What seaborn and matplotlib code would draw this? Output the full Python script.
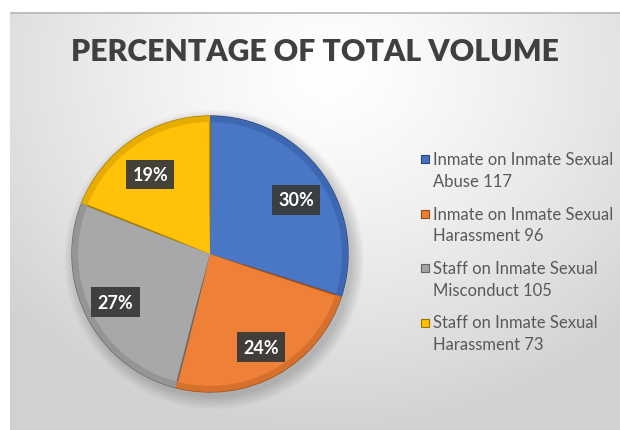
import numpy as np
import matplotlib
matplotlib.use("Agg")
import matplotlib.pyplot as plt
import matplotlib.colors as mcolors
from matplotlib.patches import Wedge, Circle, Rectangle
import seaborn as sns

# Data
categories = [
    "Inmate on Inmate Sexual\nAbuse",
    "Inmate on Inmate Sexual\nHarassment",
    "Staff on Inmate Sexual\nMisconduct",
    "Staff on Inmate Sexual\nHarassment",
]
counts = [117, 96, 105, 73]
percentages = [30, 24, 27, 19]
title = "PERCENTAGE OF TOTAL VOLUME"

sns.set_style("white")
plt.rcParams["font.family"] = ["Lato", "DejaVu Sans"]

palette = sns.color_palette(["#4472C4", "#ED7D31", "#A5A5A5", "#FFC000"])

W, H, DPI = 620, 431, 100
fig = plt.figure(figsize=(W / DPI, H / DPI), dpi=DPI)
fig.patch.set_facecolor("white")

# Background panel with a soft radial gradient
px0, py0 = 10, 13  # panel left and top in pixels
bg = fig.add_axes([px0 / W, 0, (W - px0) / W, (H - py0) / H])
bw, bh = W - px0, H - py0
yy, xx = np.mgrid[0:bh, 0:bw]
d = np.hypot((xx - 320) / 1.0, (yy - 60) / 0.85)
t = np.clip(d / 430.0, 0, 1) ** 1.3
lo, hi = 1.0, 0.82
grey = hi + (lo - hi) * (1 - t)
img = np.dstack([grey, grey, grey])
bg.imshow(img, aspect="auto", extent=[0, bw, bh, 0])
bg.set_xlim(0, bw)
bg.set_ylim(bh, 0)
bg.axis("off")
bg.plot([0, bw], [0.5, 0.5], color="#b8b8b8", lw=1.2)

# Pie axes
cx, cy, r = 210, 255, 138
half = 1.2 * r
ax = fig.add_axes([(cx - half) / W, (H - cy - half) / H, 2 * half / W, 2 * half / H])
ax.set_aspect("equal")
ax.axis("off")

# soft shadow under the pie
for k in range(8):
    ax.add_patch(Circle((0.03, -0.04), 1.0 + 0.012 * k, color="black",
                        alpha=0.025, lw=0, zorder=0))

def shade(c, f):
    c = np.array(mcolors.to_rgb(c))
    return tuple(np.clip(c * f, 0, 1))

def tint(c, f):
    c = np.array(mcolors.to_rgb(c))
    return tuple(np.clip(c + (1 - c) * f, 0, 1))

wedges, texts, autotexts = ax.pie(
    percentages,
    colors=palette,
    startangle=90,
    counterclock=False,
    radius=1.0,
    pctdistance=0.77,
    autopct=lambda p: f"{p:.0f}%",
    wedgeprops=dict(linewidth=1.0, zorder=2),
    textprops=dict(color="white", fontsize=13, fontweight="bold"),
)
ax.set_xlim(-1.2, 1.2)
ax.set_ylim(-1.2, 1.2)

# bevel: darker edges and a lighter inner face
for w, col in zip(wedges, palette):
    w.set_edgecolor(shade(col, 0.65))
    outer = Wedge((0, 0), 1.0, w.theta1, w.theta2, width=0.045,
                  facecolor=shade(col, 0.9), edgecolor="none", zorder=2.5)
    ax.add_patch(outer)
    inner = Wedge((0, 0), 0.955, w.theta1 + 1.0, w.theta2 - 1.0,
                  facecolor=tint(col, 0.03), edgecolor="none", zorder=3)
    ax.add_patch(inner)

# labels in the upper half sit a little lower, as in best-fit placement
for at in autotexts:
    x, y = at.get_position()
    if y > 0:
        at.set_position((x, y - 0.06))
    at.set_zorder(5)
    at.set_bbox(dict(boxstyle="square,pad=0.35", facecolor="#3a3a3a",
                     edgecolor="none", alpha=0.95))

# Title
fig.text(315 / W, 1 - 52 / H, title, ha="center", va="center",
         fontsize=21.7, fontweight="heavy", color="#404040")

# Legend, drawn entry by entry
lx, ly0, step, line_h = 433, 160, 54.5, 22
for i, (cat, n, col) in enumerate(zip(categories, counts, palette)):
    y = ly0 + i * step
    first, second = cat.split("\n")
    fig.text(lx / W, 1 - y / H, first, ha="left", va="center",
             fontsize=12, color="#595959")
    fig.text(lx / W, 1 - (y + line_h) / H, f"{second} {n}", ha="left",
             va="center", fontsize=12, color="#595959")
    s = 8
    fig.patches.append(Rectangle(((425 - s / 2) / W, 1 - (y + s / 2) / H),
                                 s / W, s / H, transform=fig.transFigure,
                                 facecolor=col, edgecolor=shade(col, 0.6),
                                 linewidth=0.8, figure=fig))

fig.savefig("out.png", dpi=DPI)
